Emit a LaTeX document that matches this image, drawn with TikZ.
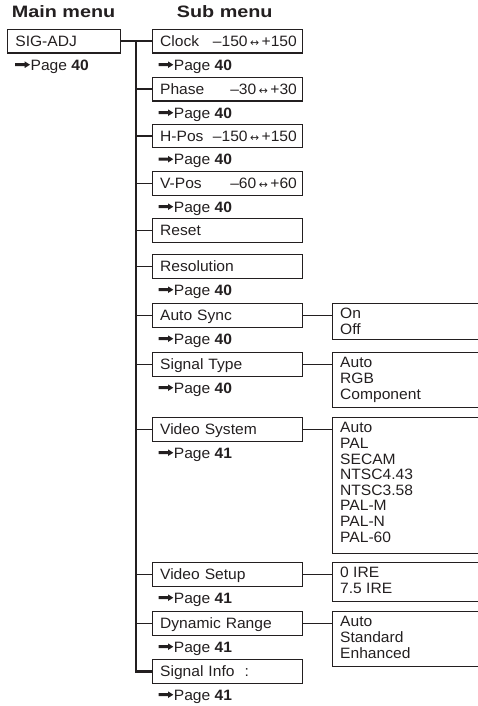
\documentclass[tikz,border=0pt]{standalone}
\usepackage{fontspec}
\usepackage{graphicx}
\setmainfont{Liberation Sans}[FakeStretch=1.04]
\newfontfamily\titlefont{Liberation Sans Bold}[FakeStretch=1.2]
\newfontfamily\arrowfont{DejaVu Sans}
\usetikzlibrary{calc}
\definecolor{ink}{HTML}{231F20}
\newcommand{\heavyarrow}{\tikz[baseline=0pt,x=1pt,y=1pt]{\fill[ink] (0,4.1)--(9.5,4.1)--(9.5,2.3)--(14.8,5.6)--(9.5,8.9)--(9.5,7.1)--(0,7.1)--cycle;}}
\newcommand{\pgref}[1]{\heavyarrow\hspace{0.6pt}Page \textbf{#1}}
\newcommand{\rng}[2]{#1\,{\arrowfont\scalebox{0.72}{↔}}\,#2}
\begin{document}
\begin{tikzpicture}[x=1pt,y=-1pt,
  txt/.style={font=\fontsize{15}{15.6}\selectfont, text=ink},
  title/.style={font=\titlefont\fontsize{16.5}{18}\selectfont, text=ink, anchor=base west, inner sep=0pt},
  mainbox/.style={txt, draw=ink, line width=1.3pt, anchor=north west, text width=97.3pt, inner xsep=8pt, inner ysep=0pt, minimum height=23.5pt, align=left, text height=10.8pt, text depth=0pt},
  subbox/.style={txt, draw=ink, line width=1.3pt, anchor=north west, text width=139.2pt, inner xsep=5.5pt, inner ysep=0pt, minimum height=23.5pt, align=left, text height=10.8pt, text depth=0pt},
  pg/.style={txt, anchor=base west, inner sep=0pt},
  optbox/.style={draw=ink, line width=1.3pt, anchor=north west, minimum width=170pt, inner sep=0pt},
  opttxt/.style={txt, anchor=north west, inner sep=0pt, align=left},
  trunkline/.style={draw=ink, line width=2.2pt},
  stub/.style={draw=ink, line width=1.8pt}
]
\useasboundingbox (0,0) rectangle (478,706);
\clip (0,0) rectangle (478,706);

\node[title] (tmain) at (11.7,17.7) {Main menu};
\node[title] (tsub) at (176.7,17.7) {Sub menu};

% main menu
\node[mainbox] (sigadj) at (6.7,29) {SIG-ADJ};
\node[pg] (pmain) at ([xshift=8.3pt,yshift=-16.5pt]sigadj.south west) {\pgref{40}};

% sub menu boxes
\node[subbox] (clock) at (151.5,29) {\hspace*{2.5pt}Clock\hfill\rng{–150}{+150}};
\node[subbox] (phase) at (151.5,77) {\hspace*{2.5pt}Phase\hfill\rng{–30}{+30}};
\node[subbox] (hpos) at (151.5,123.5) {\hspace*{2.5pt}H-Pos\hfill\rng{–150}{+150}};
\node[subbox] (vpos) at (151.5,171) {\hspace*{2.5pt}V-Pos\hfill\rng{–60}{+60}};
\node[subbox] (reset) at (151.5,218) {\hspace*{2.5pt}Reset};
\node[subbox] (resol) at (151.5,254) {\hspace*{2.5pt}Resolution};
\node[subbox] (async) at (151.5,303) {\hspace*{2.5pt}Auto Sync};
\node[subbox] (stype) at (151.5,352) {\hspace*{2.5pt}Signal Type};
\node[subbox] (vsys) at (151.5,417) {\hspace*{2.5pt}Video System};
\node[subbox] (vset) at (151.5,562) {\hspace*{2.5pt}Video Setup};
\node[subbox] (drange) at (151.5,611) {\hspace*{2.5pt}Dynamic Range};
\node[subbox] (sinfo) at (151.5,659) {\hspace*{2.5pt}Signal Info\ \ :};

% page references
\foreach \n/\p in {clock/40,phase/40,hpos/40,vpos/40,resol/40,async/40,stype/40,vsys/41,vset/41,drange/41,sinfo/41}
  \node[pg] (p\n) at ([xshift=6.8pt,yshift=-16.5pt]\n.south west) {\pgref{\p}};

% option boxes
\node[optbox, minimum height=36pt] (oasync) at (331.7,303) {};
\node[optbox, minimum height=55pt] (ostype) at (331.7,352) {};
\node[optbox, minimum height=136pt] (ovsys) at (331.7,417) {};
\node[optbox, minimum height=39pt] (ovset) at (331.7,562) {};
\node[optbox, minimum height=55pt] (odrange) at (331.7,611) {};

\node[opttxt] (tasync) at ([xshift=8.3pt,yshift=-5.3pt]oasync.north west) {On\\Off};
\node[opttxt] (tstype) at ([xshift=8.3pt,yshift=-5.3pt]ostype.north west) {Auto\\RGB\\Component};
\node[opttxt] (tvsys) at ([xshift=8.3pt,yshift=-5.3pt]ovsys.north west) {Auto\\PAL\\SECAM\\NTSC4.43\\NTSC3.58\\PAL-M\\PAL-N\\PAL-60};
\node[opttxt] (tvset) at ([xshift=8.3pt,yshift=-5.3pt]ovset.north west) {0 IRE\\7.5 IRE};
\node[opttxt] (tdrange) at ([xshift=8.3pt,yshift=-5.3pt]odrange.north west) {Auto\\Standard\\Enhanced};

% connectors
\coordinate (tx) at (136,0);
\draw[stub] (sigadj.east) -- (clock.west);
\draw[trunkline] (clock.west -| tx) -- (sinfo.west -| tx) -- (sinfo.west);
\foreach \n in {phase,hpos,vpos,reset,resol,async,stype,vsys,vset,drange}
  \draw[stub] (\n.west -| tx) -- (\n.west);
\foreach \a/\b in {async/oasync,stype/ostype,vsys/ovsys,vset/ovset,drange/odrange}
  \draw[stub] (\a.east) -- (\a.east -| \b.west);
\end{tikzpicture}
\end{document}
